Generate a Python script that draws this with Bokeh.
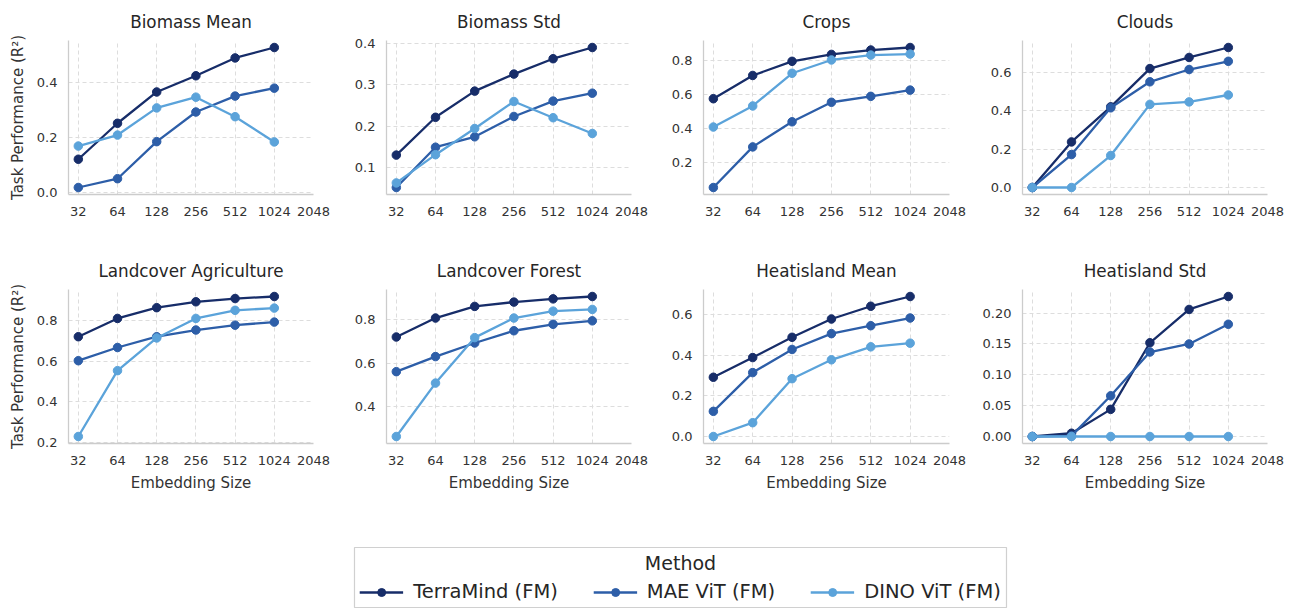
from bokeh.plotting import figure
from bokeh.layouts import column, row
from bokeh.models import (FixedTicker, BasicTickFormatter, PrintfTickFormatter, Range1d,
                          Legend, LegendItem, Label)
from bokeh.embed import file_html
from bokeh.resources import INLINE

sizes = [32, 64, 128, 256, 512, 1024]
xticks = [32, 64, 128, 256, 512, 1024, 2048]
methods = ["TerraMind (FM)", "MAE ViT (FM)", "DINO ViT (FM)"]
colors = ["#172d69", "#2d5ea8", "#5ba3da"]

titles = ["Biomass Mean", "Biomass Std", "Crops", "Clouds",
          "Landcover Agriculture", "Landcover Forest", "Heatisland Mean", "Heatisland Std"]

terramind = [
    [0.121, 0.252, 0.366, 0.425, 0.490, 0.528],
    [0.131, 0.222, 0.285, 0.326, 0.363, 0.390],
    [0.576, 0.714, 0.798, 0.839, 0.865, 0.880],
    [0.000, 0.238, 0.421, 0.621, 0.679, 0.731],
    [0.720, 0.810, 0.863, 0.892, 0.908, 0.918],
    [0.721, 0.809, 0.863, 0.883, 0.898, 0.909],
    [0.292, 0.389, 0.489, 0.579, 0.642, 0.690],
    [0.000, 0.0053, 0.044, 0.152, 0.206, 0.227],
]
mae_vit = [
    [0.018, 0.050, 0.185, 0.293, 0.351, 0.380],
    [0.053, 0.150, 0.175, 0.224, 0.261, 0.280],
    [0.049, 0.290, 0.439, 0.555, 0.590, 0.627],
    [0.000, 0.172, 0.416, 0.552, 0.616, 0.659],
    [0.602, 0.667, 0.720, 0.753, 0.777, 0.792],
    [0.560, 0.630, 0.693, 0.750, 0.780, 0.796],
    [0.124, 0.315, 0.429, 0.507, 0.546, 0.584],
    [0.000, 0.001, 0.066, 0.137, 0.150, 0.182],
]
dino_vit = [
    [0.169, 0.209, 0.308, 0.347, 0.276, 0.184],
    [0.064, 0.132, 0.195, 0.260, 0.221, 0.183],
    [0.408, 0.533, 0.727, 0.806, 0.835, 0.841],
    [0.000, 0.000, 0.167, 0.434, 0.447, 0.483],
    [0.229, 0.553, 0.714, 0.810, 0.850, 0.861],
    [0.259, 0.507, 0.718, 0.809, 0.841, 0.849],
    [0.000, 0.068, 0.285, 0.378, 0.442, 0.460],
    [0.000, 0.000, 0.000, 0.000, 0.000, 0.000],
]
yticks = [
    [0.0, 0.2, 0.4],
    [0.1, 0.2, 0.3, 0.4],
    [0.2, 0.4, 0.6, 0.8],
    [0.0, 0.2, 0.4, 0.6],
    [0.2, 0.4, 0.6, 0.8],
    [0.4, 0.6, 0.8],
    [0.0, 0.2, 0.4, 0.6],
    [0.0, 0.05, 0.10, 0.15, 0.20],
]
yfmt = ["%.1f"] * 7 + ["%.2f"]

FONT = "DejaVu Sans"
TXT = "#333333"
SPINE = "#cccccc"
GRID = "#dddddd"

# per-column figure geometry: (left border, frame width, right border)
COLS = [(68, 245, 18), (55, 245, 18), (54, 246, 18), (55, 245, 18)]


def make_panel(i):
    r, c = divmod(i, 4)
    series = [terramind[i], mae_vit[i], dino_vit[i]]
    allv = [v for s in series for v in s]
    lo, hi = min(allv), max(allv)
    pad = 0.05 * (hi - lo)
    bl, fw, br = COLS[c]
    if r == 0:
        h, bt, bb = 249, 39, 55
    else:
        h, bt, bb = 251, 39, 57
    p = figure(width=bl + fw + br, height=h, x_axis_type="log",
               x_range=Range1d(26.9, 2048), y_range=Range1d(lo - pad, hi + pad),
               output_backend="svg", toolbar_location=None,
               min_border_left=bl, min_border_right=br,
               min_border_top=bt, min_border_bottom=bb)
    p.outline_line_color = None
    p.background_fill_color = "white"
    p.border_fill_color = "white"
    p.title.text = titles[i]
    p.title.align = "center"
    p.title.text_font = FONT
    p.title.text_font_size = "16.8px"
    p.title.text_font_style = "normal"
    p.title.text_color = "#262626"
    p.title.text_line_height = 1.0
    p.title.standoff = 18

    for s, col in zip(series, colors):
        p.line(sizes, s, line_color=col, line_width=2.3)
        p.scatter(sizes, s, size=8.5, fill_color=col, line_color=col)

    p.xaxis.ticker = FixedTicker(ticks=xticks)
    p.xaxis.formatter = BasicTickFormatter(use_scientific=False)
    p.yaxis.ticker = FixedTicker(ticks=yticks[i])
    p.yaxis.formatter = PrintfTickFormatter(format=yfmt[i])
    for ax in (p.xaxis[0], p.yaxis[0]):
        ax.axis_line_color = SPINE
        ax.axis_line_width = 1.3
        ax.major_tick_line_color = None
        ax.minor_tick_line_color = None
        ax.major_tick_out = 0
        ax.major_tick_in = 0
        ax.minor_tick_out = 0
        ax.minor_tick_in = 0
        ax.major_label_text_font = FONT
        ax.major_label_text_font_size = "13px"
        ax.major_label_text_color = TXT
        ax.axis_label_text_font = FONT
        ax.axis_label_text_font_size = "15px"
        ax.axis_label_text_font_style = "normal"
        ax.axis_label_text_color = TXT
    p.xaxis.major_label_standoff = 12
    p.yaxis.major_label_standoff = 11
    if c == 0:
        p.yaxis.axis_label = "Task Performance (R²)"
        p.yaxis.axis_label_standoff = 7
    if r == 1:
        p.xaxis.axis_label = "Embedding Size"
        p.xaxis.axis_label_standoff = 6
    for g in (p.xgrid[0], p.ygrid[0]):
        g.grid_line_color = GRID
        g.grid_line_dash = "4 3"
        g.grid_line_width = 1
    return p


panels = [make_panel(i) for i in range(8)]
TOTAL_W = sum(bl + fw + br for bl, fw, br in COLS)

# legend panel (its renderers use real data placed outside the visible range)
LG_L, LG_W = 354, 652
lg = figure(width=TOTAL_W, height=108, x_range=Range1d(0, 1), y_range=Range1d(0, 1),
            output_backend="svg", toolbar_location=None,
            min_border_left=LG_L, min_border_right=TOTAL_W - LG_L - LG_W,
            min_border_top=47, min_border_bottom=0)
lg.xaxis.visible = False
lg.yaxis.visible = False
lg.xgrid.visible = False
lg.ygrid.visible = False
lg.outline_line_color = "#d0d0d0"
lg.outline_line_width = 1.2
items = []
for series, col, name in zip([terramind, mae_vit, dino_vit], colors, methods):
    lr = lg.line(sizes, series[0], line_color=col, line_width=2.3)
    sr = lg.scatter(sizes, series[0], size=8.5, fill_color=col, line_color=col)
    items.append(LegendItem(label=name, renderers=[lr, sr]))
legend = Legend(items=items, orientation="horizontal", location="bottom_center",
                border_line_color=None, background_fill_alpha=0,
                label_text_font=FONT, label_text_font_size="19.5px", label_text_color="#262626",
                glyph_width=44, glyph_height=20, spacing=35, padding=0, margin=5,
                label_standoff=10)
lg.add_layout(legend, "center")
lg.add_layout(Label(x=0.5, y=0.74, text="Method", text_align="center",
                    text_baseline="middle", text_font=FONT, text_font_size="19px",
                    text_color="#262626"))

layout = column(row(*panels[:4]), row(*panels[4:]), lg)

with open("out.html", "w") as f:
    f.write(file_html(layout, INLINE))
